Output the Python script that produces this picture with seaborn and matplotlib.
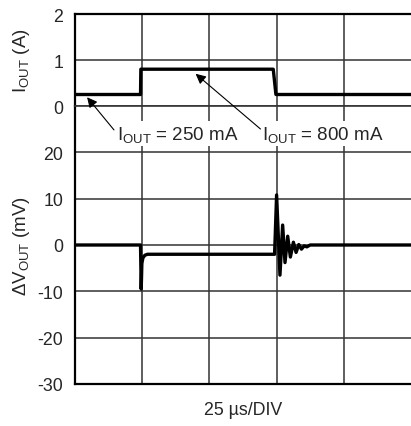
import numpy as np
import pandas as pd
import seaborn as sns
import matplotlib.pyplot as plt

# time axis in divisions (25 us/DIV), values
t_div_i = [0.0, 0.975, 0.98, 2.95, 2.99, 5.0]
i_out_a = [0.25, 0.25, 0.80, 0.80, 0.25, 0.25]

t_div_v = [0.0, 0.975, 0.985, 0.99, 0.995, 1.01, 1.04, 1.08, 2.97, 3.0, 3.05,
           3.09, 3.125, 3.165, 3.205, 3.25, 3.29, 3.33, 3.37, 3.41, 3.45, 3.5, 5.0]
dv_out_mv = [0, 0, -9.5, -7, -4, -2.8, -2.2, -2.0, -2.0, 10.8, -6.5,
             4.3, -3.8, 1.9, -2.6, 0.6, -1.6, 0.1, -0.9, -0.2, -0.4, 0, 0]

i_ticks = [0, 1, 2]
v_ticks = [-30, -20, -10, 0, 10, 20]

sns.set_style("white")
plt.rcParams['font.family'] = ['Liberation Sans', 'DejaVu Sans']
plt.rcParams['mathtext.default'] = 'regular'
plt.rcParams['axes.unicode_minus'] = False
plt.rcParams['font.size'] = 12.8

fig = plt.figure(figsize=(4.11, 4.27), dpi=100)
ax_v = fig.add_axes([75/411, 1 - 385/427, 336/411, 278/427])
ax_i = fig.add_axes([75/411, 1 - 107/427, 336/411, 92/427])

grid_kw = dict(color='#333333', lw=1.1)

df_v = pd.DataFrame({"t": t_div_v, "dv": dv_out_mv})
sns.lineplot(data=df_v, x="t", y="dv", ax=ax_v, color='black', lw=2.4,
             estimator=None, sort=False)
ax_v.set_xlim(0, 5)
ax_v.set_ylim(-30, 30)
ax_v.set_yticks(v_ticks)
ax_v.set_xticks([1, 2, 3, 4])
ax_v.set_xticklabels([])
ax_v.grid(True, **grid_kw)
ax_v.set_axisbelow(True)
ax_v.set_xlabel("25 µs/DIV", labelpad=4)
ax_v.set_ylabel(r"ΔV$_{OUT}$ (mV)", fontsize=13.5)
ax_v.yaxis.set_label_coords(-0.127, 0.5)

df_i = pd.DataFrame({"t": t_div_i, "i": i_out_a})
sns.lineplot(data=df_i, x="t", y="i", ax=ax_i, color='black', lw=2.4,
             estimator=None, sort=False)
ax_i.set_xlim(0, 5)
ax_i.set_ylim(0, 2)
ax_i.set_yticks(i_ticks)
ax_i.set_xticks([1, 2, 3, 4])
ax_i.set_xticklabels([])
ax_i.grid(True, **grid_kw)
ax_i.set_axisbelow(True)
ax_i.set_xlabel("")
ax_i.set_ylabel(r"I$_{OUT}$ (A)", fontsize=13.5)
ax_i.yaxis.set_label_coords(-0.127, 0.5)
ax_i.patch.set_alpha(0)

for ax in (ax_v, ax_i):
    ax.tick_params(length=0, pad=8.5)
    ax.spines['right'].set_visible(False)
    for s in ('left', 'top', 'bottom'):
        ax.spines[s].set_color('black')
        ax.spines[s].set_linewidth(1.6)
ax_v.spines['top'].set_visible(False)
ax_i.spines['bottom'].set_color('#333333')
ax_i.spines['bottom'].set_linewidth(1.2)

box = dict(boxstyle='square,pad=0.15', fc='white', ec='none')
ax_i.text(0.62, -0.6, r"I$_{OUT}$ = 250 mA", ha='left', va='center',
          fontsize=13.5, bbox=box, clip_on=False, zorder=5)
ax_i.text(2.79, -0.6, r"I$_{OUT}$ = 800 mA", ha='left', va='center',
          fontsize=13.5, bbox=box, clip_on=False, zorder=5)

arrow = dict(arrowstyle='-|>', color='black', lw=0.8, mutation_scale=15,
             shrinkA=0, shrinkB=0)
ax_i.annotate("", xy=(0.18, 0.19), xytext=(0.58, -0.52), arrowprops=arrow,
              annotation_clip=False, zorder=6)
ax_i.annotate("", xy=(1.795, 0.70), xytext=(2.76, -0.50), arrowprops=arrow,
              annotation_clip=False, zorder=6)

fig.savefig("out.png", dpi=100)
